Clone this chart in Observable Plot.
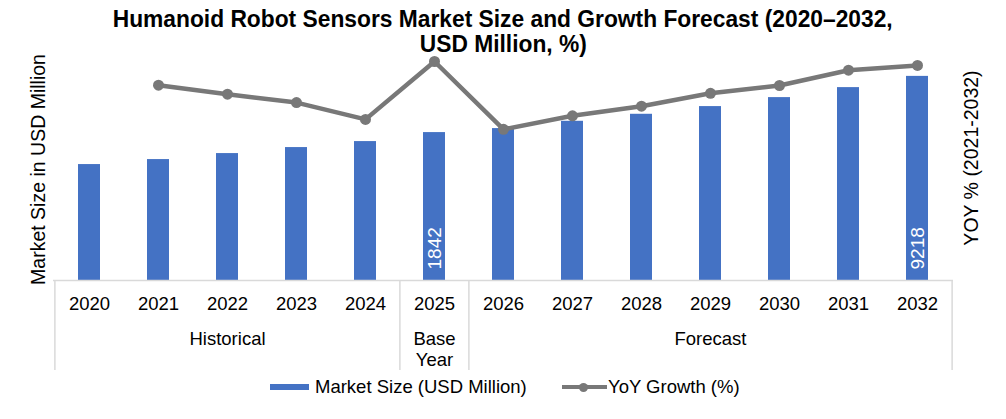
<!DOCTYPE html>
<html>
<head>
<meta charset="utf-8">
<script src="https://cdn.jsdelivr.net/npm/d3@7"></script>
<script src="https://cdn.jsdelivr.net/npm/@observablehq/plot@0.6"></script>
<style>
  body { margin: 0; background: #fff; }
  #wrap { position: relative; width: 1006px; height: 419px; font-family: "Liberation Sans", Arial, sans-serif; color: #000; overflow: hidden; }
  #title { position: absolute; top: 7px; left: 0; width: 1006px; text-align: center; font-weight: bold; font-size: 23px; line-height: 25px; }
  #title span { display: inline-block; white-space: nowrap; transform-origin: 50% 50%; }
  #chart { position: absolute; top: 52px; left: 0; width: 1006px; height: 320px; }
  #chart svg { position: absolute; top: 0; left: 0; }
  .lg { position: absolute; font-size: 18.5px; line-height: 22px; top: 376px; white-space: nowrap; }
</style>
</head>
<body>
<div id="wrap">
  <div id="title"><span id="t1">Humanoid Robot Sensors Market Size and Growth Forecast (2020–2032,</span><br><span id="t2">USD Million, %)</span></div>
  <div id="chart"></div>
  <div id="legend"></div>
</div>
<script>
// ---- data ----
const years = ["2020","2021","2022","2023","2024","2025","2026","2027","2028","2029","2030","2031","2032"];
const marketSize = [545, 673, 857, 1080, 1346, 1842, 2105, 2661, 3300, 4139, 5324, 6946, 9218];
const yoyYears = ["2021","2022","2023","2024","2025","2026","2027","2028","2029","2030","2031","2032"];
const yoyGrowth = [28.1, 25.1, 22.3, 16.7, 36.0, 13.4, 17.9, 21.1, 25.4, 28.0, 33.1, 34.7];
const labeledYears = ["2025", "2032"];
const groupLabels = ["Historical", "Base\nYear", "Forecast"];
const groupCenters = ["2022", "2025", "2029"];
const groupStarts = ["2020", "2025", "2026"];
const leftTitle = "Market Size in USD Million";
const rightTitle = "YOY % (2021-2032)";
const legendLabels = ["Market Size (USD Million)", "YoY Growth (%)"];

const barColor = "#4472C4";
const lineColor = "#787878";
const gridColor = "#d9d9d9";
const font = '"Liberation Sans", Arial, sans-serif';

const sizeData = years.map((y, i) => ({year: y, size: marketSize[i], label: labeledYears.includes(y) ? String(marketSize[i]) : null}));
const yoyData = yoyYears.map((y, i) => ({year: y, growth: yoyGrowth[i]}));
const groups = groupLabels.map((l, i) => ({at: groupCenters[i], label: l}));

const W = 1006, H = 320, ML = 53, MR = 53, MT = 3, MB = 92;
const step = (W - ML - MR) / years.length;
const frameH = H - MT - MB;

const xScale = {domain: years, paddingInner: 0.675, paddingOuter: 0.3375, axis: null};

const p1 = Plot.plot({
  width: W, height: H, marginLeft: ML, marginRight: MR, marginTop: MT, marginBottom: MB,
  x: xScale,
  y: {type: "pow", exponent: 0.2, domain: [0, 15000], axis: null},
  style: {fontFamily: font, background: "transparent", overflow: "visible", color: "#000"},
  marks: [
    Plot.barY(sizeData, {x: "year", y: "size", fill: barColor}),
    Plot.ruleY([0], {stroke: gridColor, strokeWidth: 1.5}),
    Plot.ruleX(groupStarts, {x: d => d, dx: -step / 2, insetTop: frameH, insetBottom: -90, stroke: gridColor, strokeWidth: 1.5}),
    Plot.ruleX([years[years.length - 1]], {x: d => d, dx: step / 2, insetTop: frameH, insetBottom: -90, stroke: gridColor, strokeWidth: 1.5}),
    Plot.text(years, {x: d => d, frameAnchor: "bottom", lineAnchor: "middle", dy: 23.5, fontSize: 18.5, fill: "#000"}),
    Plot.text(groups, {x: "at", text: "label", frameAnchor: "bottom", dy: 50, lineAnchor: "top", lineHeight: 1.135, fontSize: 18.5, fill: "#000"}),
    Plot.text(sizeData.filter(d => d.label), {x: "year", text: "label", frameAnchor: "bottom", lineAnchor: "middle", dy: -11, rotate: -90, textAnchor: "start", fill: "white", fontSize: 19}),
    Plot.text([leftTitle], {frameAnchor: "left", textAnchor: "middle", lineAnchor: "middle", dx: -14.5, dy: 1.5, rotate: -90, fontSize: 19.5, fill: "#000"}),
    Plot.text([rightTitle], {frameAnchor: "right", textAnchor: "middle", lineAnchor: "middle", dx: 18.5, dy: -10, rotate: -90, fontSize: 19.5, fill: "#000"})
  ]
});

const p2 = Plot.plot({
  width: W, height: H, marginLeft: ML, marginRight: MR, marginTop: MT, marginBottom: MB,
  x: xScale,
  y: {domain: [-37, 38], axis: null},
  style: {fontFamily: font, background: "transparent", overflow: "visible"},
  marks: [
    Plot.line(yoyData, {x: "year", y: "growth", stroke: lineColor, strokeWidth: 4.5}),
    Plot.dot(yoyData, {x: "year", y: "growth", r: 5.5, fill: lineColor, stroke: "none"})
  ]
});

const chart = document.getElementById("chart");
chart.appendChild(p1);
chart.appendChild(p2);

// title: fit line 1 to its measured width in the reference
const t1 = document.getElementById("t1"), t2 = document.getElementById("t2");
const s = 780 / t1.getBoundingClientRect().width;
t1.style.transform = `scaleX(${s})`;
t2.style.transform = `scaleX(${s})`;

// legend
const lg = document.getElementById("legend");
lg.innerHTML = `
  <div style="position:absolute;left:270px;top:384px;width:39px;height:6px;background:${barColor}"></div>
  <div class="lg" style="left:315px">${legendLabels[0]}</div>
  <div style="position:absolute;left:562px;top:385px;width:45px;height:4px;background:${lineColor}"></div>
  <div style="position:absolute;left:579px;top:382.5px;width:9px;height:9px;border-radius:50%;background:${lineColor}"></div>
  <div class="lg" style="left:608px">${legendLabels[1]}</div>`;
</script>
</body>
</html>
